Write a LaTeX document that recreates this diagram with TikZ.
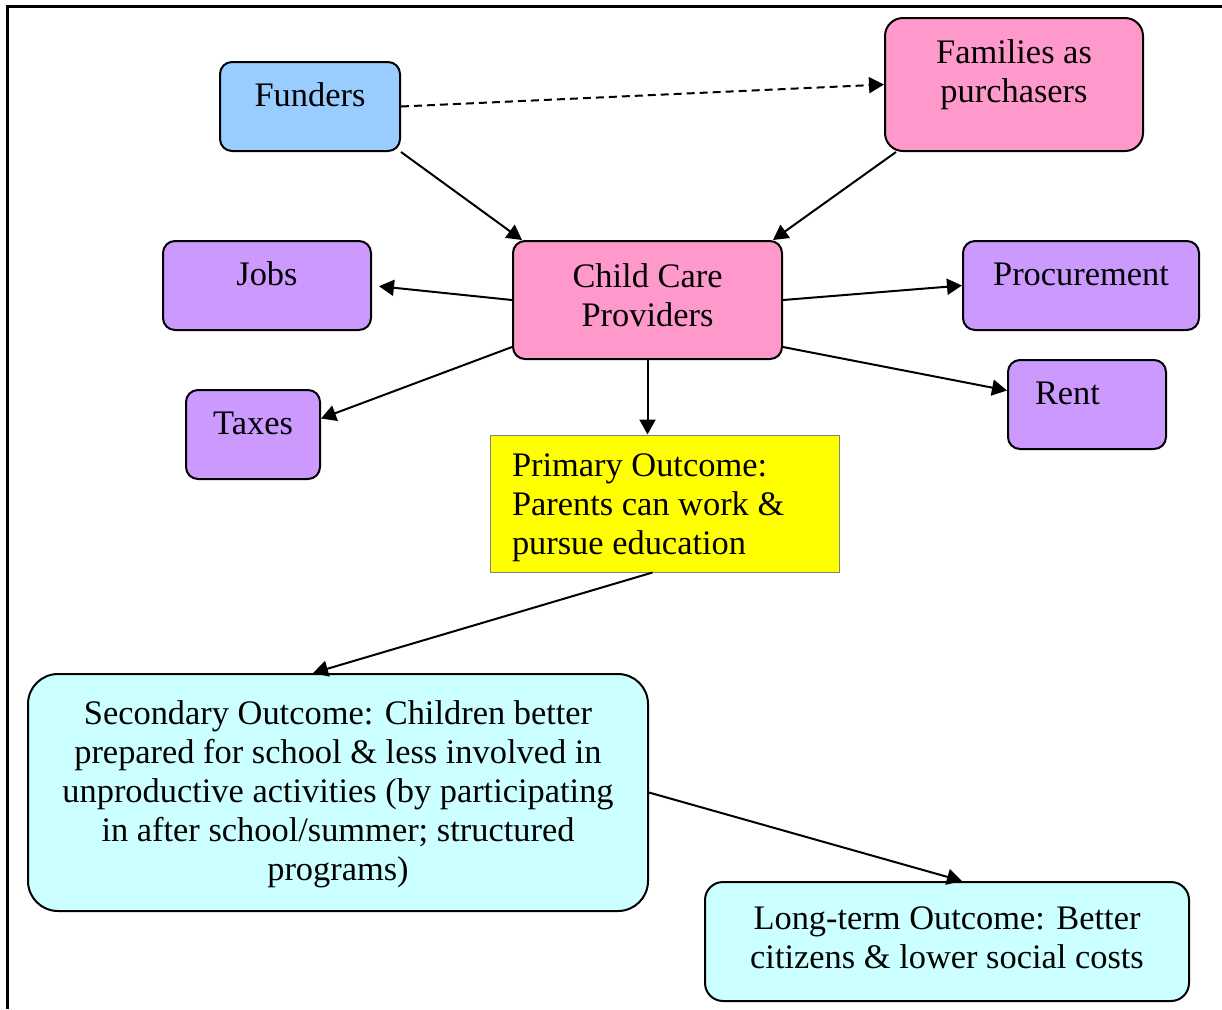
\documentclass[tikz,border=0pt]{standalone}
\usepackage{fontspec}
\setmainfont{Liberation Serif}
\usetikzlibrary{arrows.meta}
\definecolor{fundblue}{RGB}{153,204,255}
\definecolor{provpink}{RGB}{255,153,204}
\definecolor{costpurple}{RGB}{204,153,255}
\definecolor{outyellow}{RGB}{255,255,0}
\definecolor{outcyan}{RGB}{204,255,255}
\begin{document}
\begin{tikzpicture}[x=0.5pt,y=-0.5pt,
  every node/.style={font=\fontsize{17.2}{19.5}\selectfont, inner sep=0pt},
  box/.style={draw, line width=1pt, rounded corners=6pt, text height=12pt, text depth=12pt, align=center},
  arr/.style={line width=1pt, -{Triangle[length=7.5pt,width=8pt]}}]
\useasboundingbox (0,0) rectangle (1222,1009);
\draw[line width=1.5pt] (7,1009) -- (7,6) -- (1222,6); % frame

\node[box, fill=fundblue, minimum width=90pt, minimum height=44.5pt] (fund) at (310,106.5) {Funders};
\node[box, fill=provpink, rounded corners=9pt, minimum width=129pt, minimum height=66.5pt, text height=31.5pt, text depth=14pt] (fam) at (1014,84.5) {Families as\\purchasers};
\node[box, fill=provpink, minimum width=134.5pt, minimum height=59pt, text height=31.5pt, text depth=5.5pt] (ccp) at (647.5,300) {Child Care\\Providers};
\node[box, fill=costpurple, minimum width=104pt, minimum height=44.5pt] (jobs) at (267,285.5) {Jobs};
\node[box, fill=costpurple, minimum width=118pt, minimum height=44.5pt] (proc) at (1081,285.5) {Procurement};
\node[box, fill=costpurple, minimum width=67pt, minimum height=44.5pt] (tax) at (253,434.5) {Taxes};
\node[box, fill=costpurple, minimum width=79pt, minimum height=44.5pt, align=flush left, text width=52pt, inner xsep=13.5pt] (rent) at (1087,404.5) {Rent};

\node[draw=gray, line width=0.5pt, fill=outyellow, minimum width=174.5pt, minimum height=68.5pt, align=flush left, text width=152.5pt, inner xsep=11pt, text height=12pt, text depth=39.5pt] (prim) at (664.5,503.5) {Primary Outcome:\\Parents can work \&\\pursue education};
\node[box, fill=outcyan, rounded corners=15pt, minimum width=310pt, minimum height=118.5pt, text height=90pt, text depth=2.5pt] (sec) at (338,792.5) {Secondary Outcome: Children better\\prepared for school \& less involved in\\unproductive activities (by participating\\in after school/summer; structured\\programs)};
\node[box, fill=outcyan, rounded corners=9pt, minimum width=242pt, minimum height=59.5pt, text height=31.5pt, text depth=5pt] (long) at (947,941.5) {Long-term Outcome: Better\\citizens \& lower social costs};

\draw[arr, dash pattern=on 4pt off 2.5pt] (fund.east) -- (fam.west);
\draw[arr] (fund.south east) -- ([xshift=5pt]ccp.north west);
\draw[arr] ([xshift=6pt]fam.south west) -- ([xshift=-5pt]ccp.north east);
\draw[arr, shorten >=3.5pt] (ccp.west) -- (jobs.east);
\draw[arr] (ccp.east) -- (proc.west);
\draw[arr] ([yshift=6.5pt]ccp.south west) -- ([yshift=8pt]tax.east);
\draw[arr] ([yshift=6.5pt]ccp.south east) -- ([yshift=7pt]rent.west);
\draw[arr] (ccp.south) -- (ccp.south |- prim.north);
\draw[arr] ([xshift=-6pt]prim.south) -- ([xshift=-12.5pt]sec.north);
\draw[arr] (sec.east) -- ([xshift=7.5pt]long.north);
\end{tikzpicture}
\end{document}
